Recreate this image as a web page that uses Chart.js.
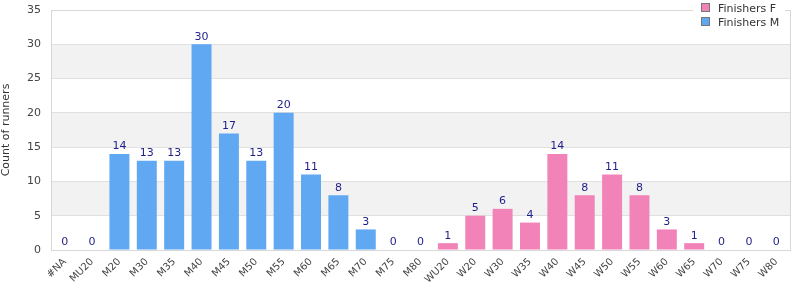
<!DOCTYPE html>
<html><head><meta charset="utf-8">
<script src="https://cdn.jsdelivr.net/npm/chart.js@4/dist/chart.umd.min.js"></script>
<style>html,body{margin:0;padding:0;background:#fff}#wrap{width:800px;height:300px;position:relative}</style>
</head><body><div id="wrap"><canvas id="c"></canvas></div>
<script>
const categories = ["#NA","MU20","M20","M30","M35","M40","M45","M50","M55","M60","M65","M70","M75","M80","WU20","W20","W30","W35","W40","W45","W50","W55","W60","W65","W70","W75","W80"];
const finishersM = [0,0,14,13,13,30,17,13,20,11,8,3,0,0,null,null,null,null,null,null,null,null,null,null,null,null,null];
const finishersF = [null,null,null,null,null,null,null,null,null,null,null,null,null,null,1,5,6,4,14,8,11,8,3,1,0,0,0];
const yTicks = [0,5,10,15,20,25,30,35];
const FONT = "'DejaVu Sans', Verdana, sans-serif";

const bands = {
  id:'bands',
  beforeDraw(chart){
    const {ctx, chartArea:a, scales:{y}} = chart;
    if(!a) return;
    ctx.save(); ctx.fillStyle='#f2f2f2';
    for (let v=5; v<35; v+=10){
      const t=y.getPixelForValue(v+5), b=y.getPixelForValue(v);
      ctx.fillRect(a.left, t, a.right-a.left, b-t);
    }
    ctx.restore();
  }
};
const labels = {
  id:'labels',
  afterDatasetsDraw(chart){
    const ctx=chart.ctx; ctx.save();
    ctx.font='11px '+FONT; ctx.fillStyle='#1f1f8a'; ctx.textAlign='center'; ctx.textBaseline='bottom';
    chart.data.datasets.forEach((ds,i)=>{
      chart.getDatasetMeta(i).data.forEach((el,j)=>{
        const v=ds.data[j]; if(v===null||v===undefined) return;
        ctx.fillText(String(v), el.x, el.y-2);
      });
    });
    ctx.restore();
  }
};
const legendBox = {
  id:'legendBox',
  afterDraw(chart){
    const ctx=chart.ctx; ctx.save();
    ctx.fillStyle='#fff'; ctx.fillRect(693,0,92,33);
    const items=[["Finishers F","#f283b9"],["Finishers M","#60a8f2"]];
    ctx.font='11px '+FONT; ctx.textBaseline='middle'; ctx.textAlign='left';
    items.forEach((it,i)=>{
      const yy=8+i*14;
      ctx.fillStyle=it[1]; ctx.fillRect(701.5,yy-4.5,8,8);
      ctx.strokeStyle='#777'; ctx.lineWidth=1; ctx.strokeRect(701.5,yy-4.5,8,8);
      ctx.fillStyle='#333'; ctx.fillText(it[0],718,yy+1);
    });
    ctx.restore();
  }
};

new Chart(document.getElementById('c'),{
  type:'bar',
  data:{labels:categories,datasets:[
    {label:'Finishers F',data:finishersF,backgroundColor:'#f283b9',barPercentage:0.73,categoryPercentage:1},
    {label:'Finishers M',data:finishersM,backgroundColor:'#60a8f2',barPercentage:0.73,categoryPercentage:1}
  ]},
  options:{
    responsive:true,maintainAspectRatio:false,animation:false,
    layout:{padding:{left:0,right:10,top:10,bottom:0}},
    plugins:{legend:{display:false},tooltip:{enabled:false}},
    scales:{
      x:{stacked:true,grid:{display:false,drawTicks:false},border:{color:'#d8d8d8'},
        ticks:{color:'#444',font:{family:FONT,size:10},minRotation:45,maxRotation:45,autoSkip:false,padding:6},
        afterFit(s){s.height=50;s.paddingLeft=0;s.paddingRight=0;}},
      y:{stacked:true,min:0,max:35,
        afterBuildTicks(s){s.ticks=yTicks.map(v=>({value:v}));},
        grid:{color:'#e0e0e0',drawTicks:false},border:{color:'#d8d8d8'},
        ticks:{color:'#444',font:{family:FONT,size:11},padding:10},
        title:{display:true,text:'Count of runners',color:'#333',font:{family:FONT,size:11},padding:0},
        afterFit(s){s.width=51;s.paddingTop=0;s.paddingBottom=0;}}
    }
  },
  plugins:[bands,labels,legendBox,{
    id:'rightBorder',
    afterDatasetsDraw(chart){const {ctx,chartArea:a}=chart;ctx.save();ctx.strokeStyle='#d8d8d8';ctx.lineWidth=1;ctx.beginPath();ctx.moveTo(a.right+0.5,a.top);ctx.lineTo(a.right+0.5,a.bottom);ctx.moveTo(a.left,a.top+0.5);ctx.lineTo(a.right,a.top+0.5);ctx.stroke();ctx.restore();}
  }]
});
</script></body></html>
